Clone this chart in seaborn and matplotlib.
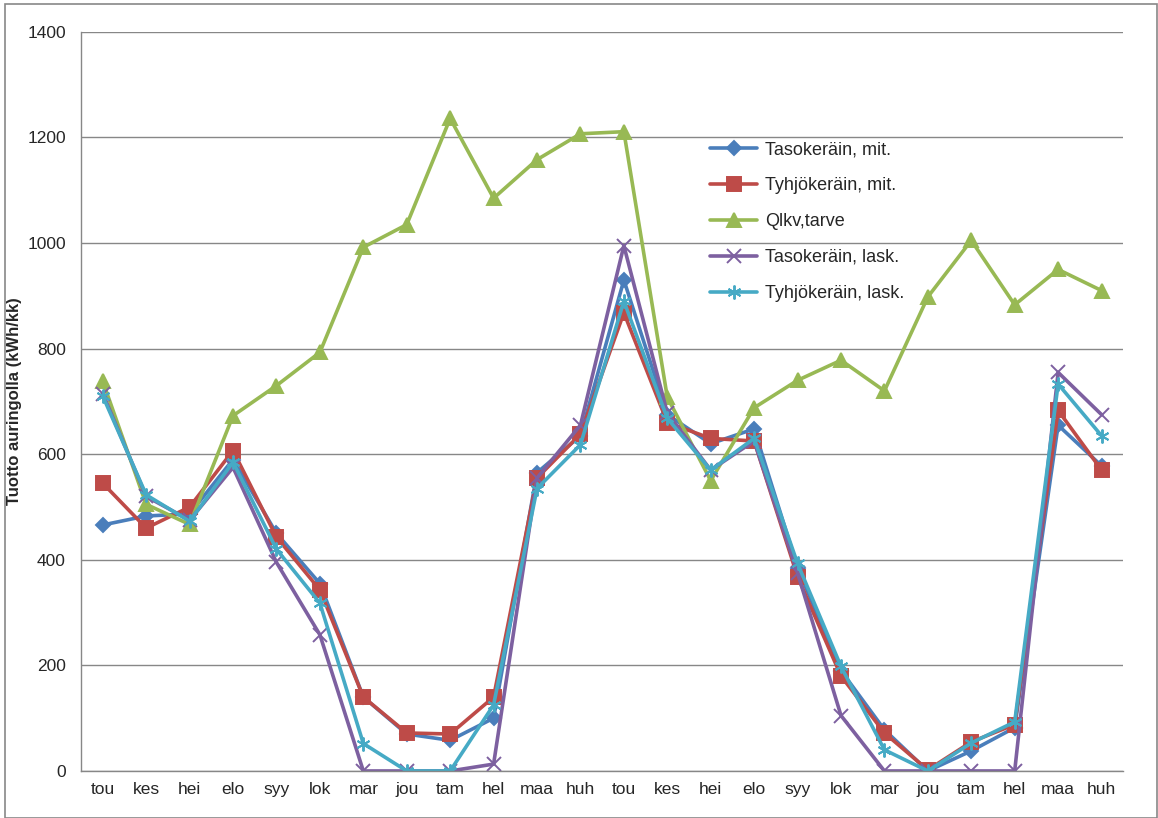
import numpy as np
import pandas as pd
import seaborn as sns
import matplotlib.pyplot as plt

months = ["tou", "kes", "hei", "elo", "syy", "lok", "mar", "jou", "tam", "hel", "maa", "huh",
          "tou", "kes", "hei", "elo", "syy", "lok", "mar", "jou", "tam", "hel", "maa", "huh"]

taso_mit = [466, 483, 487, 590, 450, 355, 140, 70, 58, 100, 565, 635,
            930, 675, 620, 648, 385, 190, 78, 0, 38, 82, 655, 578]
tyhjo_mit = [545, 460, 500, 607, 443, 343, 140, 72, 70, 140, 555, 638,
             868, 660, 630, 625, 368, 180, 72, 2, 55, 88, 683, 570]
qlkv_tarve = [738, 505, 467, 673, 730, 793, 992, 1035, 1236, 1085, 1158, 1207,
              1211, 708, 550, 688, 740, 778, 720, 898, 1005, 883, 950, 910]
taso_lask = [715, 520, 475, 575, 395, 258, 0, 0, 0, 13, 555, 655,
             995, 678, 570, 625, 375, 105, 0, 0, 0, 0, 755, 675]
tyhjo_lask = [710, 523, 473, 585, 420, 318, 52, 0, 0, 125, 535, 618,
              890, 668, 570, 630, 393, 198, 40, 0, 53, 93, 733, 635]

series = {
    "Tasokeräin, mit.": taso_mit,
    "Tyhjökeräin, mit.": tyhjo_mit,
    "Qlkv,tarve": qlkv_tarve,
    "Tasokeräin, lask.": taso_lask,
    "Tyhjökeräin, lask.": tyhjo_lask,
}

df = pd.DataFrame({"x": np.arange(len(months)), **series})
long = df.melt(id_vars="x", var_name="sarja", value_name="arvo")

sns.set_style("white")
plt.rcParams["font.family"] = ["Liberation Sans", "DejaVu Sans"]

colors = ["#4A7EBB", "#BE4B48", "#98B954", "#7D60A0", "#46AAC5"]
markers = ["D", "s", "^", "x", (6, 2, 0)]
msizes = [7, 10, 10, 10, 10]

fig = plt.figure(figsize=(11.58, 8.18), dpi=100)
ax = fig.add_axes([0.070, 0.0575, 0.900, 0.9035])

for name, col, mk, ms in zip(series, colors, markers, msizes):
    sub = long[long["sarja"] == name]
    sns.lineplot(data=sub, x="x", y="arvo", ax=ax, color=col, linewidth=2.6,
                 marker=mk, markersize=ms, markeredgecolor=col, markeredgewidth=1.4,
                 label=name)

ax.set_xlim(-0.5, len(months) - 0.5)
ax.set_ylim(0, 1400)
ax.set_yticks(np.arange(0, 1401, 200))
ax.set_xticks(np.arange(len(months)))
ax.set_xticklabels(months, fontsize=12.5)
ax.set_xticks(np.arange(-0.5, len(months), 1), minor=True)
ax.tick_params(axis="x", which="major", length=0, pad=8)
ax.tick_params(axis="x", which="minor", length=5, color="#878787", direction="out")
ax.tick_params(axis="y", length=5, color="#878787", direction="out", labelsize=12.5, pad=6)
ax.set_xlabel("")
ax.set_ylabel("Tuotto auringolla (kWh/kk)", fontsize=12, fontweight="bold", labelpad=4)
ax.grid(axis="y", color="#878787", linewidth=1)
ax.set_axisbelow(True)
for side in ["top", "right"]:
    ax.spines[side].set_visible(False)
for side in ["left", "bottom"]:
    ax.spines[side].set_color("#878787")
    ax.spines[side].set_linewidth(1)

ax.legend(loc="upper left", bbox_to_anchor=(0.597, 0.862), frameon=False,
          fontsize=13, labelspacing=1.05, handlelength=2.6, handletextpad=0.4,
          borderaxespad=0)

fig.patches.append(plt.Rectangle((0.004, 0.0), 0.995, 0.995, transform=fig.transFigure,
                                 fill=False, edgecolor="#878787", linewidth=1.2))

fig.savefig("out.png", dpi=100)
